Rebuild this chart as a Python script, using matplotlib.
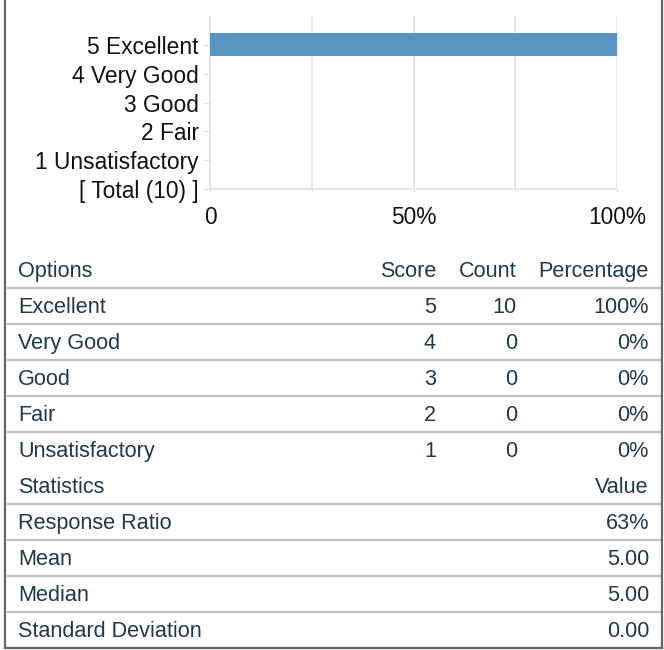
import matplotlib
matplotlib.use('Agg')
import matplotlib.pyplot as plt
from matplotlib.lines import Line2D

# ---------------------------------------------------------------- data
bar_labels = ['[ Total (10) ]', '1 Unsatisfactory', '2 Fair', '3 Good', '4 Very Good', '5 Excellent']
bar_percent = [0, 0, 0, 0, 0, 100]          # Total row has no bar
x_ticks = [0, 50, 100]
x_ticklabels = ['0', '50%', '100%']
x_grid = [0, 25, 50, 75, 100]

options = ['Excellent', 'Very Good', 'Good', 'Fair', 'Unsatisfactory']
scores = [5, 4, 3, 2, 1]
counts = [10, 0, 0, 0, 0]
percentages = ['100%', '0%', '0%', '0%', '0%']

stat_names = ['Response Ratio', 'Mean', 'Median', 'Standard Deviation']
stat_values = ['63%', '5.00', '5.00', '0.00']

# ---------------------------------------------------------------- setup
plt.rcParams['font.family'] = ['Liberation Sans', 'DejaVu Sans']
W, H = 664, 650
fig = plt.figure(figsize=(W / 100, H / 100), dpi=100)
fig.patch.set_facecolor('white')

txt_col = '#1d3a4c'
line_col = '#c4c0c0'
border_col = '#6b6464'
fs_chart = 16.4
fs = 15.6

def fx(px):
    return px / W

def fy(py):
    return 1 - py / H

# ---------------------------------------------------------------- bar chart
ax = fig.add_axes([fx(210), fy(189), fx(617 - 210), (189 - 16) / H])
ypos = list(range(len(bar_labels)))
ax.barh(ypos, bar_percent, height=0.8, color='#5993bf', zorder=3)
ax.set_ylim(0, len(bar_labels))
ax.set_xlim(0, 100)
ax.set_yticks(ypos)
ax.set_yticklabels(bar_labels, fontsize=fs_chart, color='#111111')
ax.set_xticks(x_ticks)
ax.set_xticklabels(x_ticklabels, fontsize=fs_chart, color='#111111')
ax.set_xticks(x_grid, minor=True)
ax.grid(axis='x', which='both', color='#e2e2e2', linewidth=1.2, zorder=0)
ax.tick_params(axis='y', length=5, color='#dddddd', pad=3)
ax.tick_params(axis='x', which='both', length=2, color='#dddddd', pad=10)
for s in ['top', 'right']:
    ax.spines[s].set_visible(False)
for s in ['left', 'bottom']:
    ax.spines[s].set_color('#e2e2e2')
    ax.spines[s].set_linewidth(1.2)

# ---------------------------------------------------------------- table
row_h = 36.0
y0 = 270

def hline(py):
    fig.add_artist(Line2D([fx(8), fx(660)], [fy(py), fy(py)], color=line_col, linewidth=1.6))

def put(x, py, s, ha='left'):
    # small nudge down, va=center sits a bit high for this font
    fig.text(fx(x), fy(py + 1.5), s, ha=ha, va='center', fontsize=fs, color=txt_col)

# header
put(18, y0, 'Options')
put(436, y0, 'Score', 'right')
put(517, y0, 'Count', 'right')
put(649, y0, 'Percentage', 'right')
hline(y0 + 18)

for i in range(len(options)):
    y = y0 + row_h * (i + 1)
    put(18, y, options[i])
    put(436, y, str(scores[i]), 'right')
    put(517, y, str(counts[i]), 'right')
    put(649, y, percentages[i], 'right')
    if i < len(options) - 1:
        hline(y + 18)

ys = y0 + row_h * (len(options) + 1)
put(18, ys, 'Statistics')
put(649, ys, 'Value', 'right')
hline(ys + 18)

for i in range(len(stat_names)):
    y = ys + row_h * (i + 1)
    put(18, y, stat_names[i])
    put(649, y, stat_values[i], 'right')
    if i < len(stat_names) - 1:
        hline(y + 18)

# ---------------------------------------------------------------- outer border
fig.add_artist(Line2D([fx(5), fx(5)], [fy(0), fy(648)], color=border_col, linewidth=1.6))
fig.add_artist(Line2D([fx(662), fx(662)], [fy(0), fy(648)], color=border_col, linewidth=1.6))
fig.add_artist(Line2D([fx(5), fx(662)], [fy(648), fy(648)], color=border_col, linewidth=1.6))

fig.savefig('out.png', dpi=100, facecolor='white')
